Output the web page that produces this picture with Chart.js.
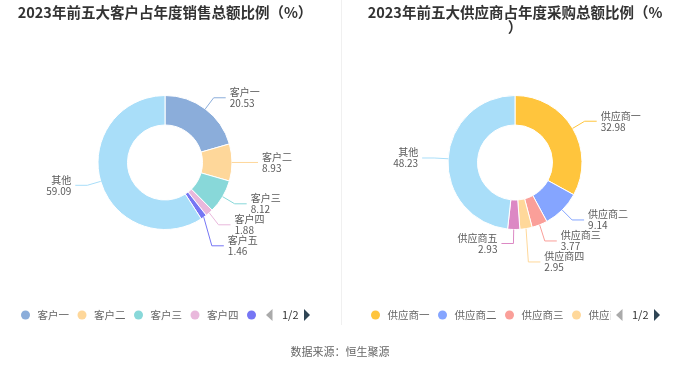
<!DOCTYPE html>
<html lang="zh">
<head>
<meta charset="UTF-8">
<title>2023年前五大客户与供应商占比</title>
<script src="https://cdn.jsdelivr.net/npm/chart.js"></script>
<style>
  body { margin: 0; background: #fff; }
  #wrap { position: relative; width: 680px; height: 367px; }
  .box { position: absolute; top: 0; width: 340px; height: 367px; }
  #divider { position: absolute; left: 341px; top: 0; width: 1px; height: 325px; background: #f0f0f0; }
  #source { position: absolute; left: 0; top: 343px; width: 680px; text-align: center;
            font: 11px "Noto Sans CJK SC"; color: #666; line-height: 16px; }
</style>
</head>
<body>
<div id="wrap">
  <div class="box" style="left:0"><canvas id="customerChart"></canvas></div>
  <div class="box" style="left:340px"><canvas id="supplierChart"></canvas></div>
  <div id="divider"></div>
  <div id="source">数据来源：恒生聚源</div>
</div>
<script>
// 客户数据
const customerLabels = ['客户一', '客户二', '客户三', '客户四', '客户五', '其他'];
const customerValues = [20.53, 8.93, 8.12, 1.88, 1.46, 59.09];
const customerColors = ['#8badda', '#fed79a', '#88d8d9', '#e9b8dc', '#7676f4', '#a9def9'];

// 供应商数据
const supplierLabels = ['供应商一', '供应商二', '供应商三', '供应商四', '供应商五', '其他'];
const supplierValues = [32.98, 9.14, 3.77, 2.95, 2.93, 48.23];
const supplierColors = ['#ffc53d', '#85a5ff', '#fa9f99', '#ffd89a', '#dc88c4', '#a9def9'];

const FONT = '"Noto Sans CJK SC", "Noto Sans", sans-serif';

// 引导线 + 标签
const sliceLabels = {
  id: 'sliceLabels',
  afterDatasetsDraw(chart) {
    const ctx = chart.ctx;
    const meta = chart.getDatasetMeta(0);
    const ds = chart.data.datasets[0];
    const items = meta.data.map((arc, i) => {
      const p = arc.getProps(['x', 'y', 'startAngle', 'endAngle', 'outerRadius'], true);
      const mid = (p.startAngle + p.endAngle) / 2;
      const c = Math.cos(mid), s = Math.sin(mid);
      return {
        i: i, side: c >= 0 ? 1 : -1,
        x0: p.x + c * p.outerRadius, y0: p.y + s * p.outerRadius,
        x1: p.x + c * (p.outerRadius + 14), y1: p.y + s * (p.outerRadius + 14)
      };
    });
    // 同侧标签避免重叠
    [1, -1].forEach(side => {
      const g = items.filter(it => it.side === side).sort((a, b) => a.y1 - b.y1);
      for (let k = 1; k < g.length; k++) {
        if (g[k].y1 < g[k - 1].y1 + 21) g[k].y1 = g[k - 1].y1 + 21;
      }
    });
    ctx.save();
    ctx.font = '10px ' + FONT;
    ctx.textBaseline = 'middle';
    items.forEach(it => {
      const x2 = it.x1 + it.side * 12;
      ctx.strokeStyle = ds.backgroundColor[it.i];
      ctx.lineWidth = 1;
      ctx.beginPath();
      ctx.moveTo(it.x0, it.y0);
      ctx.lineTo(it.x1, it.y1);
      ctx.lineTo(x2, it.y1);
      ctx.stroke();
      ctx.fillStyle = '#5a5a5a';
      ctx.textAlign = it.side > 0 ? 'left' : 'right';
      const tx = x2 + it.side * 4;
      ctx.fillText(chart.data.labels[it.i], tx, it.y1 - 5.5);
      ctx.fillText(ds.data[it.i].toFixed(2), tx, it.y1 + 5.5);
    });
    ctx.restore();
  }
};

// 分页图例（第1页）
const pagedLegend = {
  id: 'pagedLegend',
  afterDraw(chart) {
    const ctx = chart.ctx;
    const ds = chart.data.datasets[0];
    const cx = chart.getDatasetMeta(0).data[0].x;
    const left = cx - 144.5, y = 315;
    ctx.save();
    ctx.font = '10.5px ' + FONT;
    ctx.textBaseline = 'middle';
    ctx.textAlign = 'left';
    ctx.beginPath();
    ctx.rect(left, y - 10, 240, 20);
    ctx.clip();
    let x = left + 5;
    chart.data.labels.slice(0, 5).forEach((lab, i) => {
      ctx.fillStyle = ds.backgroundColor[i];
      ctx.beginPath();
      ctx.arc(x, y, 4.5, 0, Math.PI * 2);
      ctx.fill();
      ctx.fillStyle = '#666';
      ctx.fillText(lab, x + 12, y);
      x += 12 + ctx.measureText(lab).width + 13;
    });
    ctx.restore();

    ctx.save();
    ctx.fillStyle = '#aaa';
    ctx.beginPath();
    ctx.moveTo(left + 245.5, y);
    ctx.lineTo(left + 252, y - 6);
    ctx.lineTo(left + 252, y + 6);
    ctx.closePath();
    ctx.fill();
    ctx.fillStyle = '#333';
    ctx.font = '11px ' + FONT;
    ctx.textBaseline = 'middle';
    ctx.fillText('1/2', left + 261.5, y);
    ctx.fillStyle = '#2f4554';
    ctx.beginPath();
    ctx.moveTo(left + 289.5, y);
    ctx.lineTo(left + 283.5, y - 6);
    ctx.lineTo(left + 283.5, y + 6);
    ctx.closePath();
    ctx.fill();
    ctx.restore();
  }
};

function makeChart(id, titleLines, labels, values, colors, padLeft, padRight) {
  const titleSize = 14.5, lh = 15.2, padTop = 4.4;
  const padBottom = 95 - padTop - lh * titleLines.length;
  return new Chart(document.getElementById(id), {
    type: 'doughnut',
    data: {
      labels: labels,
      datasets: [{
        data: values,
        backgroundColor: colors,
        borderColor: '#fff',
        borderWidth: 1,
        hoverOffset: 0
      }]
    },
    options: {
      responsive: true,
      maintainAspectRatio: false,
      animation: false,
      cutout: '56%',
      layout: { padding: { top: 0, bottom: 137, left: padLeft, right: padRight } },
      plugins: {
        legend: { display: false },
        tooltip: { enabled: false },
        title: {
          display: true,
          text: titleLines,
          color: '#333',
          font: { family: FONT, size: titleSize, weight: 'bold', lineHeight: lh / titleSize },
          padding: { top: padTop, bottom: padBottom }
        }
      }
    },
    plugins: [sliceLabels, pagedLegend]
  });
}

makeChart('customerChart', ['2023年前五大客户占年度销售总额比例（%）'],
  customerLabels, customerValues, customerColors, 0, 10);
makeChart('supplierChart', ['2023年前五大供应商占年度采购总额比例（%', '）'],
  supplierLabels, supplierValues, supplierColors, 10, 0);
</script>
</body>
</html>
